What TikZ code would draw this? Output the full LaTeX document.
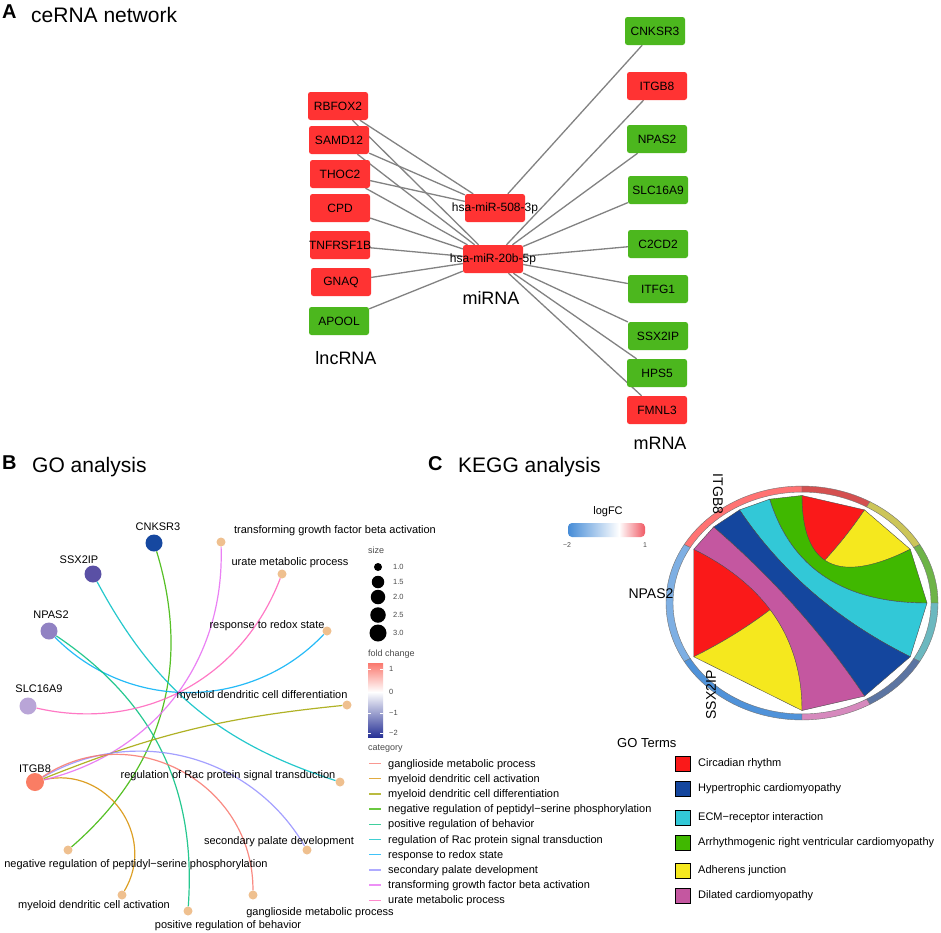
\documentclass[tikz,border=0pt]{standalone}
\usepackage{fontspec}
\setmainfont{Liberation Sans}
\usetikzlibrary{backgrounds}

\newcommand{\fsz}[1]{\fontsize{#1}{#1}\selectfont}
% chord ribbon: colour, gene start, gene end, term start, term end
\newcommand{\kribbon}[5]{\filldraw[chord, fill=#1] (#2:125) -- (#3:125)
  .. controls (#3:41.67) and (#4:41.67) .. (#4:125) -- (#5:125)
  .. controls (#5:41.67) and (#2:41.67) .. cycle;}
% outer ring segment: colour, start angle, end angle
\newcommand{\ringseg}[3]{\filldraw[ring, fill=#1] (#2:129) arc[start angle=#2, end angle=#3, radius=129]
  -- (#3:136) arc[start angle=#3, end angle=#2, radius=136] -- cycle;}

\definecolor{boxred}{RGB}{255,51,51}
\definecolor{boxgreen}{RGB}{76,183,30}
\definecolor{netgray}{RGB}{130,130,130}
\definecolor{termtan}{RGB}{239,192,143}
\definecolor{fcA}{RGB}{22,72,160}
\definecolor{fcB}{RGB}{90,80,165}
\definecolor{fcC}{RGB}{145,130,195}
\definecolor{fcD}{RGB}{185,165,215}
\definecolor{fcE}{RGB}{250,125,100}
\definecolor{fcTop}{RGB}{250,120,110}
\definecolor{fcBot}{RGB}{40,50,150}
\definecolor{catgang}{HTML}{F8766D}
\definecolor{catmact}{HTML}{D89000}
\definecolor{catmdif}{HTML}{A3A500}
\definecolor{catneg}{HTML}{39B600}
\definecolor{catpos}{HTML}{00BF7D}
\definecolor{catrac}{HTML}{00BFC4}
\definecolor{catredox}{HTML}{00B0F6}
\definecolor{catpal}{HTML}{9590FF}
\definecolor{cattgf}{HTML}{E76BF3}
\definecolor{caturate}{HTML}{FF62BC}
\definecolor{kred}{RGB}{250,25,25}
\definecolor{kblue}{RGB}{20,70,158}
\definecolor{kcyan}{RGB}{50,200,215}
\definecolor{kgreen}{RGB}{64,184,0}
\definecolor{kyellow}{RGB}{245,232,30}
\definecolor{kmag}{RGB}{196,87,160}
\definecolor{lfBlue}{RGB}{70,140,215}
\definecolor{lfRed}{RGB}{240,90,100}

\tikzset{
  rna/.style={rectangle, rounded corners=2.5pt, minimum width=60pt, minimum height=28pt, inner sep=0pt,
    label={[font=\fsz{12}, inner sep=0pt]center:#1}},
  rnaup/.style={rna=#1, fill=boxred},
  rnadown/.style={rna=#1, fill=boxgreen},
  net/.style={draw=netgray, line width=1.3pt},
  tierlab/.style={font=\fsz{18}, inner sep=0pt},
  paneltitle/.style={font=\fsz{21}, anchor=base west, inner sep=0pt},
  panelletter/.style={font=\fsz{20}\bfseries, anchor=base west, inner sep=0pt},
  gene/.style={circle, minimum size=17pt, inner sep=0pt},
  term/.style={circle, fill=termtan, minimum size=9pt, inner sep=0pt},
  genelab/.style={font=\fsz{11}, inner sep=0pt},
  termlab/.style={font=\fsz{11}, anchor=base, inner sep=0pt},
  goedge/.style={line width=1.2pt, draw opacity=0.85},
  legtitle/.style={font=\fsz{9}, text=black!70, anchor=west, inner sep=0pt},
  legtick/.style={font=\fsz{7.5}, text=black!70, anchor=west, inner sep=0pt},
  catlab/.style={font=\fsz{11}, anchor=base west, inner sep=0pt},
  catline/.style={line width=1.4pt, draw opacity=0.75},
  chord/.style={draw=black!70, line width=0.4pt},
  ring/.style={draw=black!55, line width=0.4pt},
  keylab/.style={font=\fsz{14}, inner sep=0pt},
  keybox/.style={draw=black, line width=1.3pt, minimum size=15pt, inner sep=0pt},
  keytext/.style={font=\fsz{11}, anchor=west, inner sep=0pt},
}

\begin{document}
\begin{tikzpicture}[x=1pt, y=-1pt]
\useasboundingbox (0,0) rectangle (941,932);
\begin{scope}[on background layer]
  \fill[white] (0,0) rectangle (941,932);
\end{scope}

% ---- A: ceRNA network ----
\node[panelletter] (la) at (2,18) {A};
\node[paneltitle] (ta) at (31,22) {ceRNA network};

\node[rnaup=RBFOX2] (rbfox) at (338,106) {};
\node[rnaup=SAMD12] (samd) at (339,140) {};
\node[rnaup=THOC2] (thoc) at (340,174) {};
\node[rnaup=CPD] (cpd) at (340,208) {};
\node[rnaup=TNFRSF1B] (tnf) at (340,245) {};
\node[rnaup=GNAQ] (gnaq) at (341,282) {};
\node[rnadown=APOOL] (apool) at (339,321) {};
\node[tierlab] (lnc) at (346,358) {lncRNA};

\node[rnaup=hsa-miR-508-3p] (mir508) at (495,208) {};
\node[rnaup=hsa-miR-20b-5p] (mir20) at (493,259) {};
\node[tierlab] (mi) at (491,298) {miRNA};

\node[rnadown=CNKSR3] (cnksr) at (655,31) {};
\node[rnaup=ITGB8] (itgb) at (657,86) {};
\node[rnadown=NPAS2] (npas) at (657,139) {};
\node[rnadown=SLC16A9] (slc) at (658,190) {};
\node[rnadown=C2CD2] (c2cd) at (658,244) {};
\node[rnadown=ITFG1] (itfg) at (658,289) {};
\node[rnadown=SSX2IP] (ssx) at (658,336) {};
\node[rnadown=HPS5] (hps) at (657,373) {};
\node[rnaup=FMNL3] (fmnl) at (657,410) {};
\node[tierlab] (mr) at (660,443) {mRNA};

\begin{scope}[on background layer]
  \foreach \a/\b in {rbfox/mir508, rbfox/mir20, samd/mir508, samd/mir20, thoc/mir508, thoc/mir20,
      cpd/mir20, tnf/mir20, gnaq/mir20, apool/mir20, cnksr/mir508, itgb/mir20, npas/mir20,
      slc/mir20, c2cd/mir20, itfg/mir20, ssx/mir20, hps/mir20, fmnl/mir20}
    \draw[net] (\a) -- (\b);
\end{scope}

% ---- B: GO analysis ----
\node[panelletter] (lb) at (2,469) {B};
\node[paneltitle] (tb) at (32,472) {GO analysis};

\node[gene, fill=fcA] (g-cnk) at (154,543) {};
\node[gene, fill=fcB] (g-ssx) at (93,574) {};
\node[gene, fill=fcC] (g-npas) at (49,631) {};
\node[gene, fill=fcD] (g-slc) at (28,706) {};
\node[gene, fill=fcE, minimum size=18pt] (g-itgb) at (35,782) {};
\node[genelab] (gl-cnk) at (158,527) {CNKSR3};
\node[genelab] (gl-ssx) at (79,560) {SSX2IP};
\node[genelab] (gl-npas) at (51,615) {NPAS2};
\node[genelab] (gl-slc) at (39,689) {SLC16A9};
\node[genelab] (gl-itgb) at (35,769) {ITGB8};

\node[term] (t-tgf) at (221,542) {};
\node[term] (t-urate) at (282,574) {};
\node[term] (t-redox) at (327,631) {};
\node[term] (t-mdif) at (347,705) {};
\node[term] (t-rac) at (340,782) {};
\node[term] (t-pal) at (307,850) {};
\node[term] (t-neg) at (68,850) {};
\node[term] (t-mact) at (122,895) {};
\node[term] (t-pos) at (188,911) {};
\node[term] (t-gang) at (253,895) {};

\node[termlab] (l-tgf) at (335,533) {transforming growth factor beta activation};
\node[termlab] (l-urate) at (290,565) {urate metabolic process};
\node[termlab] (l-redox) at (267,628) {response to redox state};
\node[termlab] (l-mdif) at (262,698) {myeloid dendritic cell differentiation};
\node[termlab] (l-rac) at (228,778) {regulation of Rac protein signal transduction};
\node[termlab] (l-pal) at (279,844) {secondary palate development};
\node[termlab] (l-neg) at (136,867) {negative regulation of peptidyl−serine phosphorylation};
\node[termlab] (l-mact) at (94,908) {myeloid dendritic cell activation};
\node[termlab] (l-pos) at (228,928) {positive regulation of behavior};
\node[termlab] (l-gang) at (320,915) {ganglioside metabolic process};

\begin{scope}[on background layer]
  \draw[goedge, catneg] (g-cnk) to[bend left=33] (t-neg);
  \draw[goedge, catrac] (g-ssx) to[bend right=22] (t-rac);
  \draw[goedge, catredox] (g-npas) to[bend right=46] (t-redox);
  \draw[goedge, catpos] (g-npas) to[bend left=30] (t-pos);
  \draw[goedge, caturate] (g-slc) to[bend right=41] (t-urate);
  \draw[goedge, catmact] (g-itgb) to[bend left=67, looseness=1.2] (t-mact);
  \draw[goedge, cattgf] (g-itgb) to[bend right=39] (t-tgf);
  \draw[goedge, catmdif] (g-itgb) to[bend left=8] (t-mdif);
  \draw[goedge, catpal] (g-itgb) to[bend left=45] (t-pal);
  \draw[goedge, catgang] (g-itgb) to[bend left=62, looseness=1.15] (t-gang);
\end{scope}

% size legend
\node[legtitle] (sz) at (368,550) {size};
\foreach \v/\y/\d in {1.0/567/8, 1.5/582/12.5, 2.0/597/14.5, 2.5/615/15.5, 3.0/633/17} {
  \node[circle, fill=black, minimum size=\d pt, inner sep=0pt] (sz-\v) at (378,\y) {};
  \node[legtick] (szl-\v) at (393,\y) {\v};
}

% fold change legend
\node[legtitle] (fc) at (368,654) {fold change};
\shade[top color=fcTop, bottom color=white] (368,663) rectangle (383,692);
\shade[top color=white, bottom color=fcBot] (368,692) rectangle (383,737);
\foreach \v/\y in {1/669, 0/692, −1/713, −2/733} {
  \draw[white, line width=0.8pt] (368,\y) -- (371,\y) (380,\y) -- (383,\y);
  \node[legtick] (fcl-\y) at (389,\y) {\v};
}

% category legend
\node[legtitle] (cat) at (368,749) {category};
\foreach \c/\t [count=\i from 0] in {catgang/ganglioside metabolic process,
    catmact/myeloid dendritic cell activation,
    catmdif/myeloid dendritic cell differentiation,
    catneg/negative regulation of peptidyl−serine phosphorylation,
    catpos/positive regulation of behavior,
    catrac/regulation of Rac protein signal transduction,
    catredox/response to redox state,
    catpal/secondary palate development,
    cattgf/transforming growth factor beta activation,
    caturate/urate metabolic process} {
  \draw[catline, draw=\c] (369,763.5+15.2*\i) -- (381,763.5+15.2*\i);
  \node[catlab] (cat-\i) at (388,767+15.2*\i) {\t};
}

% ---- C: KEGG analysis ----
\node[panelletter] (lc) at (428,470) {C};
\node[paneltitle] (tc) at (458,472) {KEGG analysis};

% logFC bar
\node[font=\fsz{11}, inner sep=0pt] (lf) at (608,512) {logFC};
\begin{scope}
  \clip[rounded corners=4pt] (568,523) rectangle (645,537);
  \shade[left color=lfBlue, right color=white] (568,523) rectangle (619,537);
  \shade[left color=white, right color=lfRed] (619,523) rectangle (645,537);
\end{scope}
\node[font=\fsz{7}, text=black!70, inner sep=0pt] (lf-lo) at (567,545) {−2};
\node[font=\fsz{7}, text=black!70, inner sep=0pt] (lf-hi) at (645,545) {1};

% chord diagram
\begin{scope}[shift={(802,603)}, yscale=-0.86]
  \kribbon{kred}{150}{210}{60}{90}
  \kribbon{kyellow}{210}{270}{30}{60}
  \kribbon{kgreen}{90}{105}{0}{30}
  \kribbon{kcyan}{105}{120}{-30}{0}
  \kribbon{kblue}{120}{135}{-60}{-30}
  \kribbon{kmag}{135}{150}{-90}{-60}
  \ringseg{red!55!white}{90}{150}
  \ringseg{lfBlue!70!white}{150}{210}
  \ringseg{lfBlue!95!white}{210}{270}
  \ringseg{kred!65!gray!90!white}{60}{90}
  \ringseg{kyellow!60!gray!90!white}{30}{60}
  \ringseg{kgreen!70!gray!85!white}{0}{30}
  \ringseg{kcyan!60!gray!85!white}{-30}{0}
  \ringseg{kblue!60!gray!85!white}{-60}{-30}
  \ringseg{kmag!70!white}{-90}{-60}
\end{scope}
\node[keylab, rotate=-90] (c-itgb) at (718,494) {ITGB8};
\node[keylab] (c-npas) at (651,594) {NPAS2};
\node[keylab, rotate=90] (c-ssx) at (711,695) {SSX2IP};

% GO Terms key
\node[font=\fsz{13}, anchor=west, inner sep=0pt] (gt) at (617,743) {GO Terms};
\foreach \c/\y/\t in {kred/764/Circadian rhythm, kblue/789/Hypertrophic cardiomyopathy,
    kcyan/818/ECM−receptor interaction, kgreen/843/Arrhythmogenic right ventricular cardiomyopathy,
    kyellow/871/Adherens junction, kmag/896/Dilated cardiomyopathy} {
  \node[keybox, fill=\c] (key-\y) at (683,\y) {};
  \node[keytext] (keyt-\y) at (698,\y) {\t};
}

\end{tikzpicture}
\end{document}
